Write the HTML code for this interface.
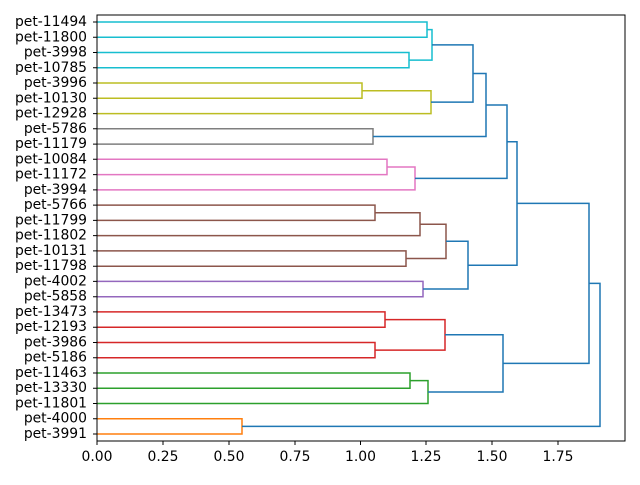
<!DOCTYPE html>
<html><head><meta charset="utf-8"><style>body{margin:0;background:#fff}</style></head><body>
<svg width="640" height="480" viewBox="0 0 640 480" xmlns="http://www.w3.org/2000/svg" font-family="DejaVu Sans, Liberation Sans, sans-serif" font-size="13.9">
<rect width="640" height="480" fill="#fff"/>
<g fill="none" stroke-width="1.5">
<g stroke="#17becf">
<path d="M97 22H427V37.3H97"/>
<path d="M97 52.5H409V67.8H97"/>
<path d="M427 29.6H432V60.1H409"/>
</g>
<g stroke="#bcbd22">
<path d="M97 83H362V98.3H97"/>
<path d="M362 90.7H431V113.6H97"/>
</g>
<g stroke="#7f7f7f"><path d="M97 128.8H373V144.1H97"/></g>
<g stroke="#e377c2">
<path d="M97 159.3H387V174.6H97"/>
<path d="M387 167H415V189.9H97"/>
</g>
<g stroke="#8c564b">
<path d="M97 205.1H375V220.4H97"/>
<path d="M375 212.8H420V235.6H97"/>
<path d="M97 250.9H406V266.2H97"/>
<path d="M420 224.2H446V258.5H406"/>
</g>
<g stroke="#9467bd"><path d="M97 281.4H423V296.7H97"/></g>
<g stroke="#d62728">
<path d="M97 311.9H385V327.2H97"/>
<path d="M97 342.5H375V357.7H97"/>
<path d="M385 319.6H445V350.1H375"/>
</g>
<g stroke="#2ca02c">
<path d="M97 373H410V388.2H97"/>
<path d="M410 380.6H428V403.5H97"/>
</g>
<g stroke="#ff7f0e"><path d="M97 418.7H242V434H97"/></g>
<g stroke="#1f77b4">
<path d="M432 44.9H473V102.1H431"/>
<path d="M473 73.5H486V136.5H373"/>
<path d="M486 105H507V178.4H415"/>
<path d="M446 241.3H468V289H423"/>
<path d="M507 141.7H517V265.2H468"/>
<path d="M445 334.8H503V392H428"/>
<path d="M517 203.4H589V363.4H503"/>
<path d="M589 283.4H600V426.4H242"/>
</g>
</g>
<rect x="97" y="15" width="528" height="426" fill="none" stroke="#000" stroke-width="1"/>
<g stroke="#000" stroke-width="1">
<path d="M97 441v4M163 441v4M229 441v4M295 441v4M360.5 441v4M426 441v4M492 441v4M558 441v4"/>
<path d="M93 22h4M93 37.3h4M93 52.5h4M93 67.8h4M93 83h4M93 98.3h4M93 113.6h4M93 128.8h4M93 144.1h4M93 159.3h4M93 174.6h4M93 189.9h4M93 205.1h4M93 220.4h4M93 235.6h4M93 250.9h4M93 266.2h4M93 281.4h4M93 296.7h4M93 311.9h4M93 327.2h4M93 342.5h4M93 357.7h4M93 373h4M93 388.2h4M93 403.5h4M93 418.7h4M93 434h4"/>
</g>
<g text-anchor="middle" fill="#000">
<text x="97" y="461">0.00</text><text x="163" y="461">0.25</text><text x="229" y="461">0.50</text><text x="295" y="461">0.75</text><text x="360.5" y="461">1.00</text><text x="426" y="461">1.25</text><text x="492" y="461">1.50</text><text x="558" y="461">1.75</text>
</g>
<g text-anchor="end" fill="#000" dominant-baseline="central">
<text x="87" y="22">pet-11494</text><text x="87" y="37.3">pet-11800</text><text x="87" y="52.5">pet-3998</text><text x="87" y="67.8">pet-10785</text><text x="87" y="83">pet-3996</text><text x="87" y="98.3">pet-10130</text><text x="87" y="113.6">pet-12928</text><text x="87" y="128.8">pet-5786</text><text x="87" y="144.1">pet-11179</text><text x="87" y="159.3">pet-10084</text><text x="87" y="174.6">pet-11172</text><text x="87" y="189.9">pet-3994</text><text x="87" y="205.1">pet-5766</text><text x="87" y="220.4">pet-11799</text><text x="87" y="235.6">pet-11802</text><text x="87" y="250.9">pet-10131</text><text x="87" y="266.2">pet-11798</text><text x="87" y="281.4">pet-4002</text><text x="87" y="296.7">pet-5858</text><text x="87" y="311.9">pet-13473</text><text x="87" y="327.2">pet-12193</text><text x="87" y="342.5">pet-3986</text><text x="87" y="357.7">pet-5186</text><text x="87" y="373">pet-11463</text><text x="87" y="388.2">pet-13330</text><text x="87" y="403.5">pet-11801</text><text x="87" y="418.7">pet-4000</text><text x="87" y="434">pet-3991</text>
</g>
</svg>
</body></html>
